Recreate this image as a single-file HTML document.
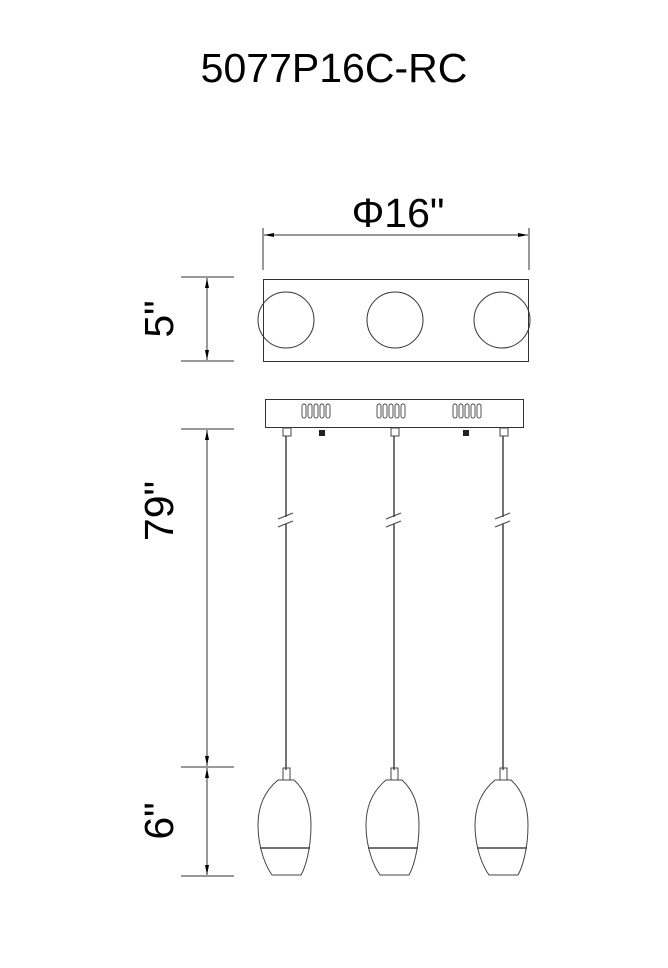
<!DOCTYPE html>
<html><head><style>
html,body{margin:0;padding:0;background:#fff;}
svg{display:block;}
text{font-family:"Liberation Sans",sans-serif;fill:#000;}
</style></head><body>
<svg width="668" height="968" viewBox="0 0 668 968" xmlns="http://www.w3.org/2000/svg">
<text x="334" y="82" font-size="41" text-anchor="middle">5077P16C-RC</text>
<text x="398" y="227" font-size="41" text-anchor="middle">Φ16"</text>
<g stroke="#333" stroke-width="1" fill="none">
<line x1="263" y1="228" x2="263" y2="270"/>
<line x1="529" y1="228" x2="529" y2="270"/>
<line x1="264" y1="235" x2="528" y2="235"/>
<line x1="181" y1="277" x2="234" y2="277"/>
<line x1="181" y1="361" x2="234" y2="361"/>
<line x1="181" y1="429" x2="234" y2="429"/>
<line x1="181" y1="767" x2="234" y2="767"/>
<line x1="181" y1="876" x2="234" y2="876"/>
<line x1="207" y1="278" x2="207" y2="360"/>
<line x1="207" y1="430" x2="207" y2="766"/>
<line x1="207" y1="768" x2="207" y2="875"/>
</g>
<g fill="#000">
<path d="M207,278 l-2,10 h4z"/><path d="M207,360 l-2,-10 h4z"/>
<path d="M207,430 l-2,10 h4z"/><path d="M207,766 l-2,-10 h4z"/>
<path d="M207,768 l-2,10 h4z"/><path d="M207,875 l-2,-10 h4z"/>
<path d="M264,235 l10,-2 v4z"/><path d="M528,235 l-10,-2 v4z"/>
</g>
<text transform="translate(173,319) rotate(-90)" font-size="41" text-anchor="middle">5"</text>
<text transform="translate(173,511) rotate(-90)" font-size="41" text-anchor="middle">79"</text>
<text transform="translate(173,821) rotate(-90)" font-size="41" text-anchor="middle">6"</text>
<g stroke="#333" stroke-width="1" fill="none">
<rect x="263.5" y="279.5" width="265" height="82"/>
<circle cx="286" cy="320" r="28"/>
<circle cx="395" cy="320" r="28"/>
<circle cx="502" cy="320" r="28"/>
<rect x="265.5" y="399.5" width="258" height="28"/>
</g>
<g stroke="#444" stroke-width="0.9" fill="none">
<g id="slots">
<rect x="302" y="404" width="4" height="14" rx="2"/><rect x="308" y="404" width="4" height="14" rx="2"/><rect x="314" y="404" width="4" height="14" rx="2"/><rect x="320" y="404" width="4" height="14" rx="2"/><rect x="326" y="404" width="4" height="14" rx="2"/>
</g>
<use href="#slots" x="75"/>
<use href="#slots" x="151"/>
</g>
<rect x="319" y="430" width="6" height="6" fill="#222"/>
<rect x="463" y="430" width="6" height="6" fill="#222"/>
<g id="p" stroke="#444" stroke-width="1" fill="none">
<rect x="283" y="428" width="8" height="8"/>
<line x1="286" y1="436" x2="286" y2="517" stroke-width="1.5"/>
<line x1="286" y1="524" x2="286" y2="770" stroke-width="1.5"/>
<line x1="278" y1="519" x2="293" y2="513"/>
<line x1="278" y1="527" x2="293" y2="521"/>
<rect x="283" y="768" width="7" height="12"/>
<path d="M278,780 H294 C305,790 311,805 311,825 C311,850 305,868 301,875 H272 C267,868 258,850 258,825 C258,805 266,790 278,780 Z"/>
<line x1="260" y1="848" x2="310" y2="848" stroke-width="1.5"/>
</g>
<use href="#p" x="108"/>
<use href="#p" x="217"/>
</svg>
</body></html>
